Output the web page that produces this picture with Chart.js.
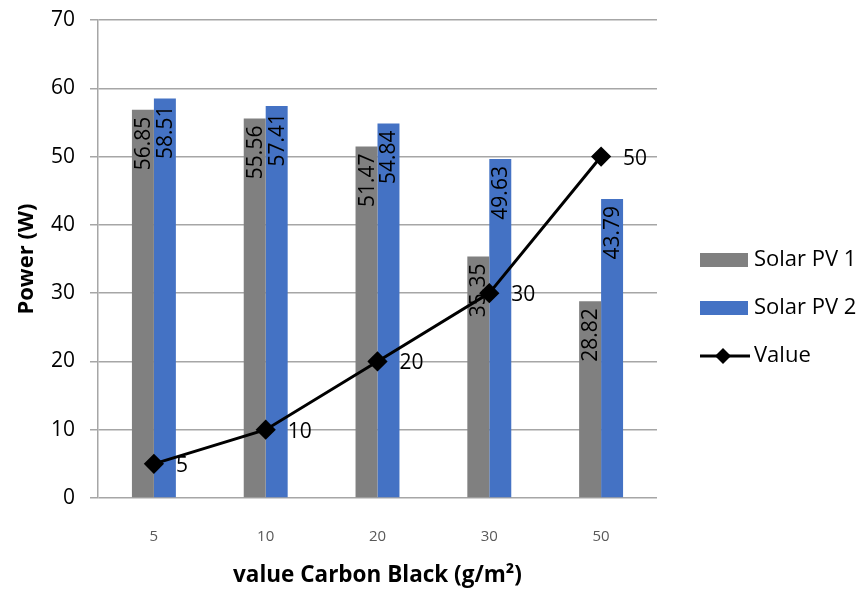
<!DOCTYPE html>
<html lang="en">
<head>
<meta charset="UTF-8">
<title>Power vs Carbon Black</title>
<script src="https://cdn.jsdelivr.net/npm/chart.js@4.4.0/dist/chart.umd.min.js"></script>
<style>
  html, body { margin: 0; padding: 0; background: #fff; }
  .wrap { width: 867px; height: 595px; position: relative; }
</style>
</head>
<body>
<div class="wrap"><canvas id="chart"></canvas></div>
<script>
// data
const categories = ['5', '10', '20', '30', '50'];
const solarPV1 = [56.85, 55.56, 51.47, 35.35, 28.82];
const solarPV2 = [58.51, 57.41, 54.84, 49.63, 43.79];
const lineValue = [5, 10, 20, 30, 50];
const yTicks = [0, 10, 20, 30, 40, 50, 60, 70];

const FONT = '"Open Sans", "Noto Sans", sans-serif';

// rotated value labels inside bar tops, plain labels right of line points
const labelPlugin = {
  id: 'labels',
  afterDatasetsDraw(chart) {
    const ctx = chart.ctx;
    ctx.save();
    ctx.fillStyle = '#000';
    chart.data.datasets.forEach((ds, i) => {
      const meta = chart.getDatasetMeta(i);
      meta.data.forEach((el, j) => {
        const v = ds.data[j];
        if (ds.type === 'line') {
          ctx.font = '21px ' + FONT;
          ctx.textAlign = 'left';
          ctx.textBaseline = 'middle';
          ctx.fillText(String(v), el.x + 22, el.y + 2);
        } else {
          ctx.save();
          ctx.font = '21px ' + FONT;
          ctx.translate(el.x + 1, el.y + 7);
          ctx.rotate(-Math.PI / 2);
          ctx.textAlign = 'right';
          ctx.textBaseline = 'middle';
          ctx.fillText(v.toFixed(2), 0, 0);
          ctx.restore();
        }
      });
    });
    ctx.restore();
  }
};

// legend on the right like the original
const legendPlugin = {
  id: 'sideLegend',
  afterDraw(chart) {
    const ctx = chart.ctx;
    const x0 = 700, ys = [260, 308, 356];
    ctx.save();
    ctx.font = '22px ' + FONT;
    ctx.textBaseline = 'middle';
    ctx.textAlign = 'left';
    chart.data.datasets.forEach((ds, i) => {
      const y = ys[i];
      if (ds.type === 'line') {
        ctx.strokeStyle = ds.borderColor;
        ctx.lineWidth = 3;
        ctx.beginPath();
        ctx.moveTo(x0, y);
        ctx.lineTo(x0 + 50, y);
        ctx.stroke();
        ctx.fillStyle = ds.borderColor;
        ctx.beginPath();
        ctx.moveTo(x0 + 23, y - 8);
        ctx.lineTo(x0 + 31, y);
        ctx.lineTo(x0 + 23, y + 8);
        ctx.lineTo(x0 + 15, y);
        ctx.closePath();
        ctx.fill();
      } else {
        ctx.fillStyle = ds.backgroundColor;
        ctx.fillRect(x0, y - 7, 48, 14);
      }
      ctx.fillStyle = '#000';
      ctx.fillText(ds.label, x0 + 54, y);
    });
    ctx.restore();
  }
};

new Chart(document.getElementById('chart'), {
  data: {
    labels: categories,
    datasets: [
      { type: 'bar', label: 'Solar PV 1', data: solarPV1, backgroundColor: '#808080', order: 2 },
      { type: 'bar', label: 'Solar PV 2', data: solarPV2, backgroundColor: '#4472c4', order: 2 },
      {
        type: 'line', label: 'Value', data: lineValue, borderColor: '#000', backgroundColor: '#000',
        borderWidth: 3, pointStyle: 'rectRot', pointRadius: 8, pointHoverRadius: 8, order: 1
      }
    ]
  },
  options: {
    responsive: true,
    maintainAspectRatio: false,
    animation: false,
    layout: { padding: { top: 20, right: 210, left: 0, bottom: 0 } },
    plugins: { legend: { display: false }, tooltip: { enabled: false } },
    datasets: { bar: { categoryPercentage: 0.393, barPercentage: 1 } },
    scales: {
      x: {
        grid: { display: false },
        border: { display: false },
        ticks: { color: '#595959', font: { family: FONT, size: 15 }, padding: 22 },
        title: { display: true, text: 'value Carbon Black (g/m²)', color: '#000', font: { family: FONT, size: 22.5, weight: 'bold' }, padding: { top: 10, bottom: 6 } },
        afterFit(s) { s.height = 97; s.paddingLeft = 0; s.paddingRight = 0; }
      },
      y: {
        min: 0, max: 70,
        afterBuildTicks(s) { s.ticks = yTicks.map(v => ({ value: v })); },
        grid: { color: '#a6a6a6', lineWidth: 1.5, tickLength: 8 },
        border: { display: true, color: '#a6a6a6', width: 1.5 },
        ticks: { color: '#000', font: { family: FONT, size: 21 }, padding: 15 },
        title: { display: true, text: 'Power (W)', color: '#000', font: { family: FONT, size: 22, weight: 'bold' }, padding: { top: 14, bottom: 4 } },
        afterFit(s) { s.width = 98; s.paddingTop = 0; s.paddingBottom = 0; }
      }
    }
  },
  plugins: [labelPlugin, legendPlugin]
});
</script>
</body>
</html>
